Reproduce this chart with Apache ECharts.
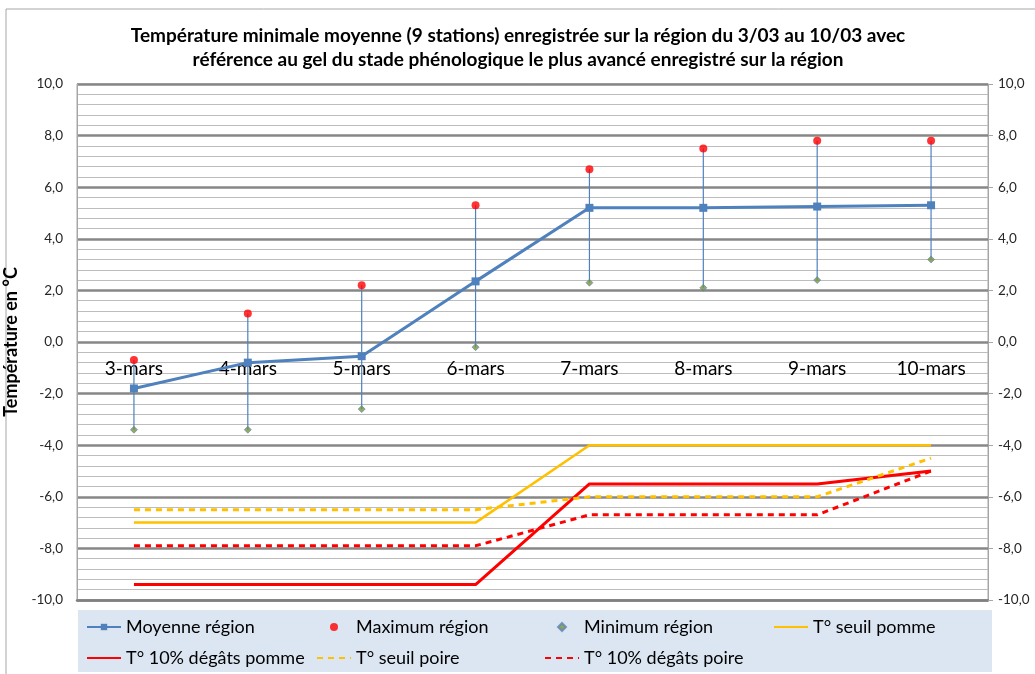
<!DOCTYPE html>
<html>
<head>
<meta charset="utf-8">
<script src="https://cdn.jsdelivr.net/npm/echarts@6/dist/echarts.min.js"></script>
<style>
  html, body { margin: 0; padding: 0; background: #fff; }
  #chart { width: 1035px; height: 674px; }
</style>
</head>
<body>
<div id="chart"></div>
<script>
// dates (category axis)
const categories = ["3-mars", "4-mars", "5-mars", "6-mars", "7-mars", "8-mars", "9-mars", "10-mars"];
// station temperatures
const moyenneRegion = [-1.8, -0.8, -0.55, 2.35, 5.2, 5.2, 5.25, 5.3];
const maximumRegion = [-0.7, 1.1, 2.2, 5.3, 6.7, 7.5, 7.8, 7.8];
const minimumRegion = [-3.4, -3.4, -2.6, -0.2, 2.3, 2.1, 2.4, 3.2];
// frost thresholds
const seuilPomme = [-7, -7, -7, -7, -4, -4, -4, -4];
const degatsPomme = [-9.4, -9.4, -9.4, -9.4, -5.5, -5.5, -5.5, -5.0];
const seuilPoire = [-6.5, -6.5, -6.5, -6.5, -6.0, -6.0, -6.0, -4.5];
const degatsPoire = [-7.9, -7.9, -7.9, -7.9, -6.7, -6.7, -6.7, -5.0];
const yTicks = [-10, 10, 2];

const FONT = "Lato, 'Liberation Sans', sans-serif";
const fmt = v => v.toFixed(1).replace(".", ",");

const chart = echarts.init(document.getElementById("chart"));

const legendBase = {
  orient: "vertical",
  top: 617,
  padding: 0,
  itemWidth: 34,
  itemHeight: 8,
  itemGap: 11,
  textStyle: { fontFamily: FONT, fontSize: 18, color: "#000", lineHeight: 20 }
};
// line-only entries: hide the symbol echarts puts in the middle of the icon
const noDot = name => ({ name: name, itemStyle: { opacity: 0 } });
const diamondIcon = "path://M5,0 L10,5 L5,10 L0,5 Z";

const options = {
  animation: false,
  textStyle: { fontFamily: FONT },
  title: {
    text: "Température minimale moyenne (9 stations) enregistrée sur la région du 3/03 au 10/03 avec\nréférence au gel du stade phénologique le plus avancé enregistré sur la région",
    left: 513,
    textAlign: "center",
    top: 19,
    textStyle: { fontFamily: FONT, fontSize: 19, fontWeight: "bold", color: "#000", lineHeight: 24 }
  },
  graphic: [
    {
      type: "rect",
      z: -10,
      shape: { x: 6, y: 9, width: 1040, height: 700 },
      style: { fill: "none", stroke: "#a6a6a6", lineWidth: 1 }
    },
    {
      type: "rect",
      z: -5,
      shape: { x: 78, y: 610, width: 914, height: 62 },
      style: { fill: "#dce6f2" }
    }
  ],
  legend: [
    Object.assign({ left: 86, data: ["Moyenne région", noDot("T° 10% dégâts pomme")] }, legendBase),
    Object.assign({ left: 316, data: ["Maximum région", noDot("T° seuil poire")] }, legendBase),
    Object.assign({ left: 544, data: [{ name: "Minimum région", icon: diamondIcon }, noDot("T° 10% dégâts poire")] }, legendBase),
    Object.assign({ left: 773, data: [noDot("T° seuil pomme")] }, legendBase)
  ],
  grid: {
    left: 77,
    right: 47,
    top: 84,
    bottom: 74,
    outerBoundsMode: "none",
    show: true,
    borderColor: "#a6a6a6",
    borderWidth: 1
  },
  xAxis: {
    type: "category",
    data: categories,
    boundaryGap: true,
    // labels sit just under the 0 line, as in the spreadsheet
    axisLine: { show: true, onZero: false, lineStyle: { color: "#808080", width: 2.5 } },
    axisTick: { show: false },
    axisLabel: { margin: -241, fontSize: 19, color: "#000", fontFamily: FONT },
    splitLine: { show: false }
  },
  yAxis: [
    {
      type: "value",
      min: yTicks[0],
      max: yTicks[1],
      interval: yTicks[2],
      name: "Température en °C",
      nameLocation: "middle",
      nameRotate: 90,
      nameGap: 49,
      nameTextStyle: { fontFamily: FONT, fontSize: 18, fontWeight: "bold", color: "#000" },
      axisLine: { show: true, lineStyle: { color: "#a6a6a6" } },
      axisTick: { show: false },
      axisLabel: { formatter: fmt, fontSize: 13.5, color: "#262626", margin: 14 },
      splitLine: { show: true, lineStyle: { color: "#878787", width: 2.5 } },
      minorTick: { show: false, splitNumber: 5 },
      minorSplitLine: { show: true, lineStyle: { color: "#bdbdbd", width: 1.2 } }
    },
    {
      type: "value",
      position: "right",
      min: yTicks[0],
      max: yTicks[1],
      interval: yTicks[2],
      axisLine: { show: true, lineStyle: { color: "#a6a6a6" } },
      axisTick: { show: true, length: 5, lineStyle: { color: "#a6a6a6" } },
      axisLabel: { formatter: fmt, fontSize: 13.5, color: "#262626", margin: 10 },
      splitLine: { show: false }
    }
  ],
  series: [
    {
      name: "écart",
      type: "custom",
      z: 2,
      renderItem: function (params, api) {
        const top = api.coord([api.value(0), api.value(2)]);
        const bot = api.coord([api.value(0), api.value(1)]);
        return {
          type: "line",
          shape: { x1: top[0], y1: top[1], x2: bot[0], y2: bot[1] },
          style: { stroke: "#4f81bd", lineWidth: 1.2 }
        };
      },
      encode: { x: 0, y: [1, 2] },
      data: categories.map((c, i) => [i, minimumRegion[i], maximumRegion[i]])
    },
    {
      name: "T° seuil pomme",
      type: "line",
      z: 3,
      symbol: "none",
      data: seuilPomme,
      itemStyle: { color: "#ffc000" },
      lineStyle: { color: "#ffc000", width: 2.5 }
    },
    {
      name: "T° 10% dégâts pomme",
      type: "line",
      z: 3,
      symbol: "none",
      data: degatsPomme,
      itemStyle: { color: "#ff0000" },
      lineStyle: { color: "#ff0000", width: 3 }
    },
    {
      name: "T° seuil poire",
      type: "line",
      z: 3,
      symbol: "none",
      data: seuilPoire,
      itemStyle: { color: "#ffc000" },
      lineStyle: { color: "#ffc000", width: 3, type: [6, 5] }
    },
    {
      name: "T° 10% dégâts poire",
      type: "line",
      z: 3,
      symbol: "none",
      data: degatsPoire,
      itemStyle: { color: "#ff0000" },
      lineStyle: { color: "#ff0000", width: 3, type: [6, 5] }
    },
    {
      name: "Moyenne région",
      type: "line",
      z: 4,
      symbol: "rect",
      symbolSize: 8,
      data: moyenneRegion,
      itemStyle: { color: "#4f81bd" },
      lineStyle: { color: "#4f81bd", width: 3 }
    },
    {
      name: "Maximum région",
      type: "scatter",
      z: 5,
      symbol: "circle",
      symbolSize: 8,
      data: maximumRegion,
      itemStyle: { color: "#ff0000" }
    },
    {
      name: "Minimum région",
      type: "scatter",
      z: 5,
      symbol: "diamond",
      symbolSize: 7,
      data: minimumRegion,
      itemStyle: { color: "#76933c", borderColor: "#5f86b8", borderWidth: 0.8 }
    }
  ]
};

chart.setOption(options);
</script>
</body>
</html>
